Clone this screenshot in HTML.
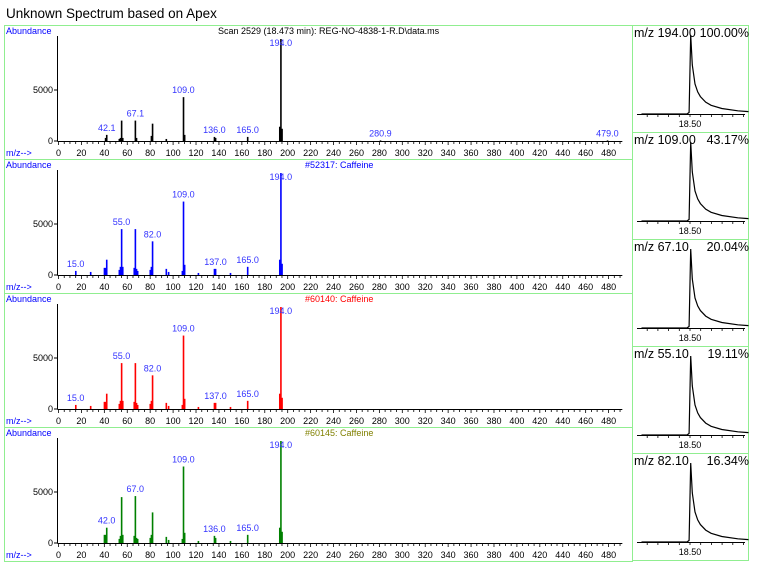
<!DOCTYPE html>
<html><head><meta charset="utf-8"><style>
body{margin:0;background:#fff;width:760px;height:572px;overflow:hidden;font-family:"Liberation Sans",sans-serif}
svg text{font-family:"Liberation Sans",sans-serif}
</style></head><body>
<svg id="c" width="760" height="572" xmlns="http://www.w3.org/2000/svg">
<rect width="760" height="572" fill="#fff"/>
<text x="6" y="18" font-size="13.5" fill="#000">Unknown Spectrum based on Apex</text>
<g id="main"></g><g id="side"></g>
</svg>
<script>
// m/z values and abundances per spectrum
const mzScan=[41,42,53,54,55,56,67,68,81,82,94,109,110,136,137,165,193,194,195,280.9,479];
const abScan=[300,600,200,300,2000,300,2000,300,500,1700,200,4300,600,400,300,400,1400,10000,1200,60,60];
const mzLib=[15,28,40,41,42,53,54,55,56,66,67,68,69,80,81,82,94,96,108,109,110,122,136,137,150,165,193,194,195];
const abLib1=[400,300,700,700,1500,500,800,4500,800,700,4500,600,400,500,800,3300,600,300,400,7200,1000,200,600,600,200,800,1500,10000,1100];
const abLib2=[400,300,700,700,1500,500,800,4500,800,700,4500,600,400,500,800,3300,600,300,400,7200,1000,200,600,600,200,800,1500,10000,1100];
const abLib3=[0,0,800,800,1500,400,700,4500,800,700,4600,500,400,500,800,3000,600,300,400,7500,1000,200,700,500,200,800,1500,10000,1100];
const labScan=[[42.1,600],[67.1,2000],[109.0,4300],[136.0,400],[165.0,400],[194.0,10000],[280.9,60],[479.0,60]];
const labLib1=[[15.0,400],[55.0,4500],[82.0,3300],[109.0,7200],[137.0,600],[165.0,800],[194.0,10000]];
const labLib3=[[42.0,1500],[67.0,4600],[109.0,7500],[136.0,700],[165.0,800],[194.0,10000]];
const headers=["Scan 2529 (18.473 min): REG-NO-4838-1-R.D\\data.ms","#52317: Caffeine","#60140: Caffeine","#60145: Caffeine"];
const xTicks=[0,20,40,60,80,100,120,140,160,180,200,220,240,260,280,300,320,340,360,380,400,420,440,460,480];
// chromatogram data
const ionLabels=["m/z 194.00","m/z 109.00","m/z 67.10","m/z 55.10","m/z 82.10"];
const ionPct=["100.00%","43.17%","20.04%","19.11%","16.34%"];
const chromT=[18.40,18.45,18.485,18.489,18.492,18.495,18.50,18.505,18.51,18.52,18.53,18.55,18.58,18.60];
const chromI=[0,0,0,2,100,62,38,28,22,15,11,7,4,3];

const NS="http://www.w3.org/2000/svg";
function el(tag,attrs,parent,txt){const e=document.createElementNS(NS,tag);for(const k in attrs)e.setAttribute(k,attrs[k]);if(txt!==undefined)e.textContent=txt;parent.appendChild(e);return e;}
const main=document.getElementById('main'),side=document.getElementById('side');
const xS=v=>58.5+v*1.146;
const spectra=[[mzScan,abScan,'#000',labScan],[mzLib,abLib1,'#0000ff',labLib1],[mzLib,abLib2,'#ff0000',labLib1],[mzLib,abLib3,'#008000',labLib3]];
const hdrCol=['#000','#0000ff','#ff0000','#808000'];
spectra.forEach((s,i)=>{
  const top=25+i*134, base=141+i*134;
  const yS=v=>base-v*0.0102;
  const g=el('g',{},main);
  
  
  el('rect',{x:4.5,y:top+0.5,width:628,height:134,fill:'none',stroke:'#90ee90'},g);
  const ab=el('text',{x:6,y:top+9,'font-size':9,fill:'#0000ff'},g,'Abundance');
  
  
  const h=el('text',{x:i==0?218:305,y:top+9,'font-size':9,fill:i==0?'#000':hdrCol[i]},g,headers[i]);
  
  
  el('line',{x1:57.5,y1:top+11,x2:57.5,y2:base,stroke:'#000'},g);
  el('line',{x1:57.5,y1:base+0.5,x2:xS(492),y2:base+0.5,stroke:'#000'},g);
  for(let v=0;v<=490;v+=5){el('line',{x1:xS(v),y1:base,x2:xS(v),y2:base+(v%20==0?4:3),stroke:'#000','stroke-width':0.8},g);}
  [[0,'0'],[5000,'5000']].forEach(t=>{el('line',{x1:54,y1:yS(t[0]),x2:57.5,y2:yS(t[0]),stroke:'#000'},g);
    const tl=el('text',{x:53,y:yS(t[0])+3,'font-size':9,'text-anchor':'end'},g,t[1]);
    
    });
  xTicks.forEach(v=>{const tl=el('text',{x:xS(v),y:base+15,'font-size':9,'text-anchor':'middle'},g,String(v));
    
    });
  const mz=el('text',{x:6,y:base+15,'font-size':9,fill:'#0000ff'},g,'m/z-->');
  
  
  s[0].forEach((m,j)=>{if(!s[1][j])return;const b=el('rect',{x:xS(m)-0.7,y:yS(s[1][j]),width:1.6,height:base-yS(s[1][j]),fill:s[2]},g);
    
    });
  s[3].forEach(l=>{const t=el('text',{x:xS(l[0]),y:Math.max(yS(l[1])-4,top+21),'font-size':9,fill:'#3333ff','text-anchor':'middle'},g,l[0].toFixed(1));
    
    });
});
const tx=t=>695+(t-18.5)*535;
ionLabels.forEach((lab,i)=>{
  const top=25+i*107, base=top+89;
  const g=el('g',{},side);
  
  
  el('rect',{x:632.5,y:top+0.5,width:116,height:107,fill:'none',stroke:'#90ee90'},g);
  const t1=el('text',{x:634,y:top+12,'font-size':12.5},g,lab);
  
  
  const t2=el('text',{x:749,y:top+12,'font-size':12.5,'text-anchor':'end'},g,ionPct[i]);
  
  
  el('line',{x1:637,y1:base+0.5,x2:745,y2:base+0.5,stroke:'#000'},g);
  for(let k=-4;k<=5;k++){const x=690+k*10.7;el('line',{x1:x,y1:base,x2:x,y2:base+3,stroke:'#000','stroke-width':0.8},g);}
  const tl=el('text',{x:690,y:base+13,'font-size':9,'text-anchor':'middle'},g,'18.50');
  
  
  const pts=chromT.map((t,j)=>tx(t).toFixed(1)+','+(base-chromI[j]*0.79).toFixed(1)).join(' ');
  const pl=el('polyline',{points:pts,fill:'none',stroke:'#000','stroke-width':1.2},g);
  
  
});
</script>
</body></html>
